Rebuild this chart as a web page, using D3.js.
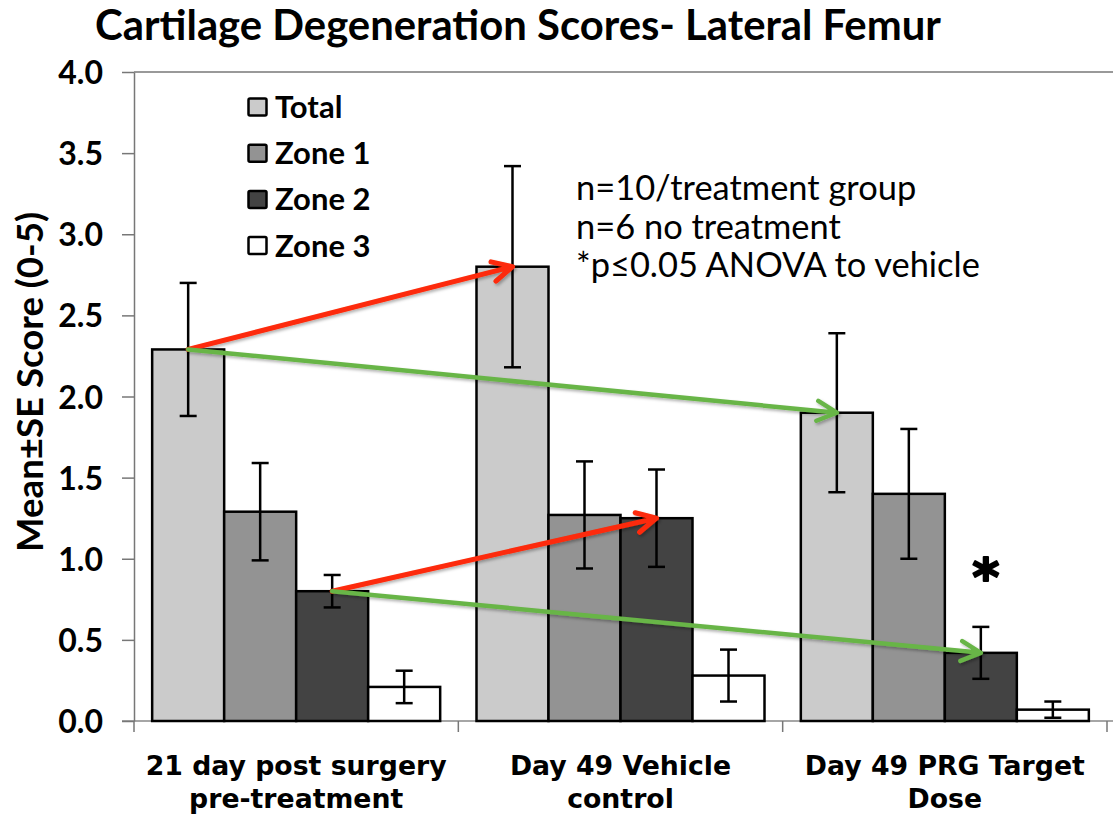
<!DOCTYPE html>
<html><head><meta charset="utf-8">
<script src="https://cdn.jsdelivr.net/npm/d3@7"></script>
<style>body{margin:0;background:#fff} svg{display:block}</style>
</head><body><svg id="c" width="1113" height="815"></svg>
<script>
// ---------------- data ----------------
const categories = ["21 day post surgery pre-treatment", "Day 49 Vehicle control", "Day 49 PRG Target Dose"];
const categoryLabelLines = [["21 day post surgery", "pre-treatment"], ["Day 49 Vehicle", "control"], ["Day 49 PRG Target", "Dose"]];
const seriesNames = ["Total", "Zone 1", "Zone 2", "Zone 3"];
const totalMean = [2.29, 2.80, 1.90];
const zone1Mean = [1.29, 1.27, 1.40];
const zone2Mean = [0.80, 1.25, 0.42];
const zone3Mean = [0.21, 0.28, 0.07];
const totalSE = [0.41, 0.62, 0.49];
const zone1SE = [0.30, 0.33, 0.40];
const zone2SE = [0.10, 0.30, 0.16];
const zone3SE = [0.10, 0.16, 0.05];
const yTicks = [0, 0.5, 1.0, 1.5, 2.0, 2.5, 3.0, 3.5, 4.0];
const titleText = "Cartilage Degeneration Scores- Lateral Femur";
const yAxisTitle = "Mean\u00B1SE Score (0-5)";
const noteLines = ["n=10/treatment group", "n=6 no treatment", "*p\u22640.05 ANOVA to vehicle"];
const sigCategory = [2];
const sigSeries = ["Zone 2"];
const arrowFromCat = [0, 0, 0, 0];
const arrowFromSeries = ["Total", "Total", "Zone 2", "Zone 2"];
const arrowToCat = [1, 2, 1, 2];
const arrowToSeries = ["Total", "Total", "Zone 2", "Zone 2"];
const arrowKind = ["increase", "decrease", "increase", "decrease"];

// ---------------- build ----------------
const means = [totalMean, zone1Mean, zone2Mean, zone3Mean];
const ses = [totalSE, zone1SE, zone2SE, zone3SE];
const rows = [];
categories.forEach((c, ci) => seriesNames.forEach((s, si) => rows.push({cat: c, ci, series: s, v: means[si][ci], se: ses[si][ci]})));
const lookup = (ci, s) => rows.find(r => r.ci === ci && r.series === s);

const FONT = "Lato, 'DejaVu Sans', sans-serif";
const FONT2 = "'DejaVu Sans', sans-serif";
const svg = d3.select("#c");
const pLeft = 134, pRight = 1107, pTop = 72, pBottom = 721;
const y = d3.scaleLinear().domain([0, 4]).range([pBottom, pTop]);
const x0 = d3.scaleBand().domain(categories).range([pLeft, pRight]).paddingInner(0.112).paddingOuter(0.056);
const x1 = d3.scaleBand().domain(seriesNames).range([0, x0.bandwidth()]);
const color = d3.scaleOrdinal().domain(seriesNames).range(["#cbcbcb", "#939393", "#434343", "#ffffff"]);
const arrowColor = d3.scaleOrdinal().domain(["increase", "decrease"]).range(["#fd2a08", "#68b547"]);

function fit(sel, w) {
  const L = sel.node().getComputedTextLength();
  const fs = parseFloat(sel.attr("font-size"));
  if (L > 0) sel.attr("font-size", fs * w / L);
}

// defs
const defs = svg.append("defs");
const f = defs.append("filter").attr("id", "sh").attr("x", "-10%").attr("y", "-50%").attr("width", "120%").attr("height", "200%");
f.append("feDropShadow").attr("dx", 1.5).attr("dy", 2).attr("stdDeviation", 1.5).attr("flood-color", "#000").attr("flood-opacity", 0.3);

// title
const t = svg.append("text").attr("x", 518).attr("y", 40).attr("text-anchor", "middle")
  .attr("font-family", FONT).attr("font-weight", "bold").attr("font-size", 34).attr("fill", "#000").text(titleText);
fit(t, 846);

// top line at 4.0 and baseline
svg.append("line").attr("x1", pLeft).attr("x2", 1113).attr("y1", y(4)).attr("y2", y(4)).attr("stroke", "#999").attr("stroke-width", 2);
svg.append("line").attr("x1", 122).attr("x2", 1113).attr("y1", y(0)).attr("y2", y(0)).attr("stroke", "#888").attr("stroke-width", 1.5);

// y axis
const ya = svg.append("g").attr("transform", `translate(${pLeft},0)`)
  .call(d3.axisLeft(y).tickValues(yTicks).tickSize(12).tickSizeOuter(0).tickPadding(19).tickFormat(d3.format(".1f")));
ya.select(".domain").attr("stroke", "#777").attr("stroke-width", 1.5);
ya.selectAll(".tick line").attr("stroke", "#777").attr("stroke-width", 1.5);
ya.selectAll(".tick text").attr("font-family", FONT).attr("font-weight", "bold").attr("font-size", 32).attr("fill", "#000").attr("dy", "0.36em");

// category ticks
const gap = (x0.step() - x0.bandwidth()) / 2;
const bounds = categories.map(c => x0(c) - gap).concat([x0(categories[categories.length - 1]) + x0.bandwidth() + gap]);
svg.append("g").selectAll("line").data(bounds).join("line")
  .attr("x1", d => d).attr("x2", d => d).attr("y1", y(0)).attr("y2", y(0) + 11).attr("stroke", "#777").attr("stroke-width", 1.5);

// y title
const yt = svg.append("text").attr("transform", `translate(43,382) rotate(-90)`).attr("text-anchor", "middle")
  .attr("font-family", FONT).attr("font-weight", "bold").attr("font-size", 28).attr("fill", "#000").text(yAxisTitle);
fit(yt, 340);

// bars
const bars = svg.append("g");
bars.selectAll("rect").data(rows).join("rect")
  .attr("x", d => x0(d.cat) + x1(d.series)).attr("width", x1.bandwidth())
  .attr("y", d => y(d.v)).attr("height", d => y(0) - y(d.v))
  .attr("fill", d => color(d.series)).attr("stroke", "#000").attr("stroke-width", 2.5);

// error bars
const eb = svg.append("g").attr("stroke", "#000").attr("stroke-width", 2.5);
rows.forEach(d => {
  const cx = x0(d.cat) + x1(d.series) + x1.bandwidth() / 2;
  eb.append("line").attr("x1", cx).attr("x2", cx).attr("y1", y(d.v + d.se)).attr("y2", y(d.v - d.se));
  [d.v + d.se, d.v - d.se].forEach(v => eb.append("line").attr("x1", cx - 8.5).attr("x2", cx + 8.5).attr("y1", y(v)).attr("y2", y(v)));
});

// arrows
const ag = svg.append("g").attr("filter", "url(#sh)");
arrowKind.forEach((k, i) => {
  const a = lookup(arrowFromCat[i], arrowFromSeries[i]);
  const b = lookup(arrowToCat[i], arrowToSeries[i]);
  const sx = x0(a.cat) + x1(a.series) + x1.bandwidth() / 2, sy = y(a.v);
  const ex = x0(b.cat) + x1(b.series) + x1.bandwidth() / 2, ey = y(b.v);
  const ang = Math.atan2(ey - sy, ex - sx);
  const L = 22, spread = 27 * Math.PI / 180;
  const p1 = [ex + L * Math.cos(ang + Math.PI - spread), ey + L * Math.sin(ang + Math.PI - spread)];
  const p2 = [ex + L * Math.cos(ang + Math.PI + spread), ey + L * Math.sin(ang + Math.PI + spread)];
  ag.append("path")
    .attr("d", `M${sx},${sy}L${ex},${ey}M${p1[0]},${p1[1]}L${ex},${ey}L${p2[0]},${p2[1]}`)
    .attr("fill", "none").attr("stroke", arrowColor(k)).attr("stroke-width", k === "increase" ? 5 : 4.5)
    .attr("stroke-linecap", "round").attr("stroke-linejoin", "round");
});

// significance star
sigCategory.forEach((ci, i) => {
  const d = lookup(ci, sigSeries[i]);
  const cx = x0(d.cat) + x1(d.series) + x1.bandwidth() / 2 + 5;
  const cy = y(d.v + d.se) - 62;
  const s = svg.append("text").attr("x", cx).attr("y", cy).attr("text-anchor", "middle")
    .attr("font-family", FONT2).attr("font-weight", "bold").attr("font-size", 52)
    .attr("fill", "#000").attr("stroke", "#000").attr("stroke-width", 2).attr("stroke-linejoin", "round").text("*");
  const bb = s.node().getBBox();
  s.attr("y", cy + (cy - (bb.y + bb.height * 0.3)));
});

// legend
const lg = svg.append("g");
seriesNames.forEach((s, i) => {
  const by = 118 + i * 46.2;
  lg.append("rect").attr("x", 248.5).attr("y", by - 19.5).attr("width", 18).attr("height", 17).attr("rx", 1.5)
    .attr("fill", color(s)).attr("stroke", "#000").attr("stroke-width", 2.5);
  lg.append("text").attr("x", 275).attr("y", by).attr("font-family", FONT).attr("font-weight", "bold")
    .attr("font-size", 31).attr("fill", "#000").text(s);
});

// note
const ng = svg.append("g");
const nt = noteLines.map((l, i) => ng.append("text").attr("x", 576).attr("y", 200 + i * 38.5)
  .attr("font-family", FONT).attr("font-size", 28).attr("fill", "#000").text(l));
fit(nt[2], 404);
nt.forEach(n => n.attr("font-size", nt[2].attr("font-size")));

// category labels
const cl = svg.append("g");
let xs = null;
categoryLabelLines.forEach((lines, ci) => {
  const cx = x0(categories[ci]) + x0.bandwidth() / 2;
  lines.forEach((l, li) => {
    const tt = cl.append("text").attr("x", cx).attr("y", 775 + li * 33).attr("text-anchor", "middle")
      .attr("font-family", FONT2).attr("font-weight", "bold").attr("font-size", 26).attr("fill", "#000").text(l);
    if (ci === 0 && li === 0) { fit(tt, 301); xs = Math.min(27, parseFloat(tt.attr("font-size"))); tt.attr("font-size", xs); }
    else tt.attr("font-size", xs);
  });
});
</script></body></html>
